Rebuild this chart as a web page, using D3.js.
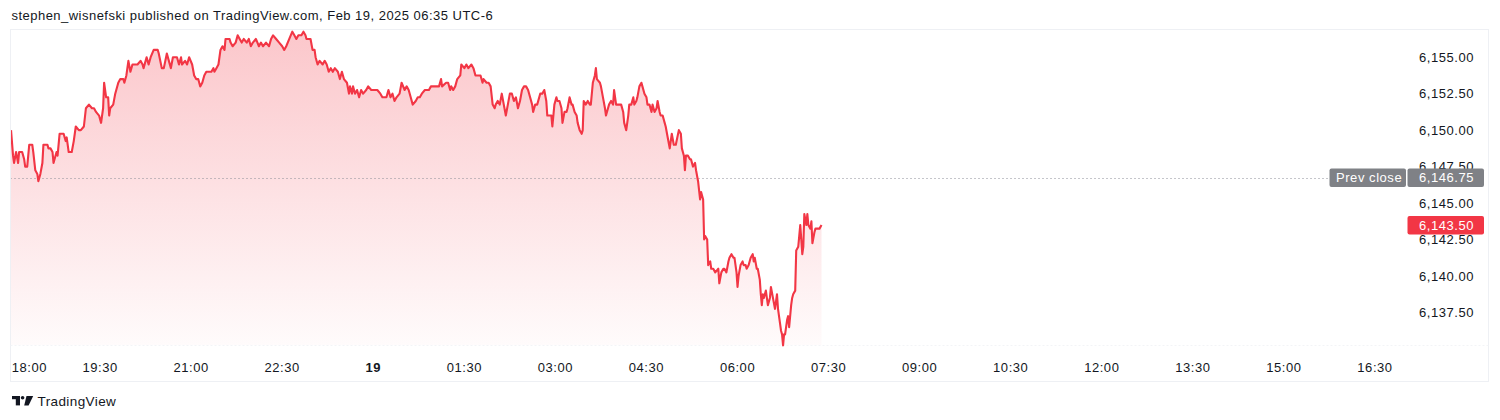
<!DOCTYPE html>
<html><head><meta charset="utf-8">
<script src="https://cdn.jsdelivr.net/npm/d3@7"></script>
<style>
html,body{margin:0;padding:0;background:#fff;}
svg{display:block;font-family:"Liberation Sans",Arial,sans-serif;}
</style></head>
<body>
<script>
// ---------- DATA ----------
const headerText = "stephen_wisnefski published on TradingView.com, Feb 19, 2025 06:35 UTC-6";
const sessionStart = "18:00";
const firstBarOffsetMin = 2; // first bar minutes after session start
// [minutes after first bar, price]
const ticksEvening = [[0,6150],[2,6148.25],[3,6147.75],[5,6148.5],[7,6147.75],[8,6148.5],[11,6148.5],[13,6148],[14,6147.5],[16,6147.5],[18,6149],[21,6149],[22,6148.5],[24,6147.25],[26,6147],[27,6146.5],[29,6147],[31,6147.75],[32,6149],[36,6149],[37,6148.75],[39,6148.75],[41,6148.5],[42,6147.75],[45,6148.5],[46,6148.25],[48,6149.75],[52,6149.75],[54,6149.25],[55,6149.5],[57,6148.5],[60,6148.5],[62,6149.25],[64,6150.25],[67,6150],[69,6150],[72,6150.25],[74,6151.5],[77,6151.75],[80,6151.5],[82,6151.5],[84,6151.25],[87,6151],[89,6150.5],[91,6151.5],[92,6153.25],[94,6152.25],[96,6152.25],[97,6151],[98,6151.5],[101,6151.75],[103,6152.5],[106,6153.25],[108,6153.5],[111,6153.5],[112,6153.25],[114,6153.75],[116,6154.75],[118,6154],[120,6154.5],[123,6154.5],[125,6154.5],[128,6154.75],[130,6154.5],[131,6154.25],[134,6155],[136,6154.5],[138,6155]];
const ticksNight = [[141,6155.5],[145,6155.5],[146,6155.25],[149,6154.25],[151,6154.25],[154,6155.25],[156,6154.75],[158,6154.25],[160,6155],[162,6155],[164,6155],[166,6154.5],[168,6155],[169,6154.5],[172,6154.75],[174,6154.5],[176,6155],[179,6154.5],[181,6153.75],[183,6153.5],[185,6153.5],[187,6153],[189,6153.25],[191,6153.75],[193,6154],[195,6154],[198,6154],[200,6154.25],[201,6154],[203,6154.25],[205,6154.5],[207,6155.5],[209,6155.75],[211,6155.5],[212,6156.25],[216,6156.25],[217,6156],[219,6155.75],[222,6156],[224,6156.5],[226,6156.25],[228,6156],[230,6156.25],[233,6156],[235,6156.25],[237,6155.75],[239,6156],[242,6156.25],[245,6155.75],[247,6156],[249,6155.75],[252,6156],[255,6155.75],[257,6156.25],[259,6156.5],[262,6156.25],[265,6156],[268,6155.75],[270,6155.5],[272,6155.75],[275,6156.25],[278,6156.75],[280,6156.5],[282,6156.25],[284,6156.5],[287,6156.5],[289,6156.75],[291,6156.5],[292,6156.25],[295,6156.25],[296,6156.25],[298,6155.5],[300,6155.5],[301,6155],[303,6154.5],[305,6154.75],[308,6154.5],[310,6154.75],[312,6154.5],[314,6154],[316,6154.25],[318,6154],[320,6154.25],[323,6154],[325,6153.5],[327,6154],[329,6153.5],[332,6153.25],[334,6152.5],[335,6153],[337,6152.5],[338,6153],[340,6152.5],[342,6152.75],[344,6152.25],[346,6152.75],[348,6152.5],[351,6152.75],[353,6153],[356,6152.75],[359,6152.75],[362,6152.75],[365,6152.5],[367,6152.25],[371,6152.25],[373,6152.75],[375,6152.25],[377,6152.5],[379,6152],[381,6152.25],[384,6152.5],[386,6153.25],[389,6152.75],[391,6153],[393,6152.75],[395,6152.25],[397,6151.75],[400,6152],[402,6152.25],[404,6152.25],[406,6152.5],[409,6152.75],[412,6152.75]];
const ticksEarly = [[413,6152.75],[415,6153],[418,6153],[423,6153],[425,6153.5],[426,6153],[430,6153.25],[432,6153.25],[434,6152.75],[435,6153],[437,6152.75],[439,6153],[441,6153.5],[444,6153.75],[445,6154.5],[448,6154.25],[450,6154.5],[452,6154.25],[455,6154.5],[457,6154.25],[459,6153.75],[461,6153.75],[464,6153.75],[466,6153.25],[467,6153.5],[470,6153.25],[472,6153.25],[474,6153],[476,6151.75],[478,6151.5],[479,6151.75],[481,6152],[483,6151.75],[485,6152.5],[487,6151.75],[489,6151],[491,6151.75],[493,6152.5],[495,6152.5],[497,6152],[499,6152.25],[501,6151.5],[503,6152],[505,6152.75],[507,6153],[509,6153],[511,6152.75],[513,6152.25],[515,6151.75],[516,6151.25],[518,6151.75],[520,6151.75],[523,6152.5],[525,6152.5],[527,6152.75],[529,6152],[530,6151],[532,6151],[534,6151],[535,6150.25],[537,6151.75],[539,6152.25],[540,6152],[542,6152],[544,6151.5],[545,6150.5],[547,6151.25],[549,6151.25],[550,6151.5],[552,6152.25],[554,6151.75],[555,6151.75],[557,6151.25],[559,6151],[560,6150.5],[562,6150],[564,6149.75],[565,6150],[566,6152],[568,6151.75],[570,6152],[572,6151.75],[573,6151.75],[575,6153.25],[577,6153.75],[578,6154.25],[579,6153.5],[582,6153.25],[583,6153],[585,6152.25],[587,6151.5],[588,6151],[590,6151.5],[591,6151.75],[593,6152],[595,6151.75],[596,6152.75],[598,6151.75],[600,6151.75],[601,6151.75],[603,6151.75],[605,6151.25],[606,6150.5],[608,6150],[610,6151],[611,6151.75],[613,6151.75],[615,6152.25],[616,6151.75],[618,6152],[619,6152.25],[621,6153],[623,6153.25],[624,6153],[626,6152.5],[628,6152.25],[629,6151.75],[631,6151.75],[633,6151.25],[634,6151.75],[636,6151.25],[638,6151.5],[639,6152],[641,6151.25],[642,6151],[644,6151],[646,6150.5],[647,6150.25],[649,6149.5],[651,6148.75],[652,6149.25],[653,6149.75],[655,6149],[657,6149],[660,6150],[662,6149.75],[663,6148.75],[665,6148.25],[666,6147.25],[667,6148.25],[669,6148.25],[671,6148],[672,6148],[674,6147.5],[676,6147.75],[677,6147.25],[679,6146.5]];
const ticksMorning = [[681,6145.25],[682,6145.75],[684,6145.25],[685,6142.5],[686,6142.75],[688,6142.5],[689,6140.75],[691,6141],[692,6140.5],[694,6140.5],[696,6140.25],[699,6140.5],[700,6139.5],[702,6140.25],[704,6140.5],[705,6140.5],[707,6140.25],[709,6141],[710,6141.25],[712,6141.5],[714,6141.25],[715,6141.25],[717,6140.25],[718,6139.25],[719,6140],[721,6140.75],[723,6141],[724,6140.75],[726,6140.75],[727,6140.5],[729,6140.75],[731,6141.25],[733,6141.5],[734,6141],[735,6141.25],[737,6140.5],[738,6140.5],[740,6139.75],[741,6138.75],[742,6138],[743,6138.75],[744,6138.5],[746,6139],[747,6138.5],[748,6138],[750,6138.5],[751,6139.25],[753,6138.5],[755,6137.75],[756,6138.25],[757,6138.75],[758,6137.75],[760,6136.75],[761,6136.25],[762,6136],[763,6135.25],[764,6136],[765,6136],[767,6137],[768,6137.25],[769,6136.5],[771,6138],[772,6138.5],[773,6138.75],[775,6139],[776,6141.75],[778,6142],[779,6142.75],[780,6143.5],[782,6141.5],[783,6142],[784,6144.25],[786,6143.5],[787,6144.25],[788,6143.5],[790,6143.25],[791,6143.75],[792,6142.25],[794,6143],[795,6143.25],[797,6143.25],[799,6143.25],[801,6143.5]];
const prevClose = 6146.75;
const lastPrice = 6143.50;
const priceTicks = [6137.5, 6140, 6142.5, 6145, 6147.5, 6150, 6152.5, 6155];
const timeTickLabels = ["18:00","19:30","21:00","22:30","19","01:30","03:00","04:30","06:00","07:30","09:00","10:30","12:00","13:30","15:00","16:30"];
const timeTickStepMin = 90;

// ---------- LAYOUT ----------
const W = 1500, H = 420;
const frame = {l: 10.5, t: 29.5, r: 1488.5, b: 381.5};
const plotBottom = 345;
const fmt = d3.format(",.2f");

const svg = d3.select("body").append("svg").attr("width", W).attr("height", H);

const x = d3.scaleLinear().domain([0, 1350]).range([9, 1375]);
const y = d3.scaleLinear().domain([6137.5, 6155]).range([312.5, 57.2]);

const data = [...ticksEvening, ...ticksNight, ...ticksEarly, ...ticksMorning]
  .map(([m, p]) => ({m: m + firstBarOffsetMin, p}));

// header
svg.append("text").attr("x", 11.5).attr("y", 19.5)
  .attr("font-size", 13).attr("fill", "#131722").attr("letter-spacing", 0.47)
  .text(headerText);

// frame
svg.append("rect").attr("x", frame.l).attr("y", frame.t)
  .attr("width", frame.r - frame.l).attr("height", frame.b - frame.t)
  .attr("fill", "none").attr("stroke", "#eef0f4").attr("stroke-width", 1);
svg.append("line").attr("x1", frame.l).attr("x2", frame.r)
  .attr("y1", plotBottom + 0.5).attr("y2", plotBottom + 0.5)
  .attr("stroke", "#f3f4f7").attr("stroke-dasharray", "2,2");

const defs = svg.append("defs");
const grad = defs.append("linearGradient").attr("id", "fillGrad")
  .attr("gradientUnits", "userSpaceOnUse").attr("x1", 0).attr("x2", 0)
  .attr("y1", 32).attr("y2", plotBottom);
grad.append("stop").attr("offset", 0).attr("stop-color", "#f23645").attr("stop-opacity", 0.28);
grad.append("stop").attr("offset", 1).attr("stop-color", "#f23645").attr("stop-opacity", 0.02);
defs.append("clipPath").attr("id", "plotClip").append("rect")
  .attr("x", frame.l + 0.5).attr("y", frame.t + 0.5)
  .attr("width", 1400).attr("height", plotBottom - frame.t + 2);

const g = svg.append("g").attr("clip-path", "url(#plotClip)");
g.append("path").datum(data)
  .attr("d", d3.area().x(d => x(d.m)).y0(plotBottom).y1(d => y(d.p)))
  .attr("fill", "url(#fillGrad)");

// prev close dotted line
g.append("line").attr("x1", frame.l).attr("x2", 1329)
  .attr("y1", Math.round(y(prevClose)) + 0.5).attr("y2", Math.round(y(prevClose)) + 0.5)
  .attr("stroke", "#8a8d96").attr("stroke-width", 1).attr("stroke-dasharray", "1,3");

g.append("path").datum(data)
  .attr("d", d3.line().x(d => x(d.m)).y(d => y(d.p)))
  .attr("fill", "none").attr("stroke", "#f23645").attr("stroke-width", 2.1)
  .attr("stroke-linejoin", "round");

// price axis labels
svg.append("g").selectAll("text").data(priceTicks).join("text")
  .attr("x", 1419).attr("y", d => y(d) + 4.6)
  .attr("font-size", 13).attr("fill", "#131722").attr("letter-spacing", 0.55)
  .text(d => fmt(d));

// prev close label
const pcY = y(prevClose);
svg.append("rect").attr("x", 1329.5).attr("y", pcY - 9).attr("width", 76.5).attr("height", 18.5)
  .attr("rx", 2).attr("fill", "#7f8186");
svg.append("rect").attr("x", 1407.5).attr("y", pcY - 9).attr("width", 76.5).attr("height", 18.5)
  .attr("rx", 2).attr("fill", "#7f8186");
svg.append("text").attr("x", 1336).attr("y", pcY + 4.6).attr("font-size", 13)
  .attr("fill", "#fff").attr("letter-spacing", 0.55).text("Prev close");
svg.append("text").attr("x", 1419).attr("y", pcY + 4.6).attr("font-size", 13)
  .attr("fill", "#fff").attr("letter-spacing", 0.55).text(fmt(prevClose));

// last price label
const lpY = y(lastPrice);
svg.append("rect").attr("x", 1407.5).attr("y", lpY - 9).attr("width", 76.5).attr("height", 18.5)
  .attr("rx", 2).attr("fill", "#f23645");
svg.append("text").attr("x", 1419).attr("y", lpY + 4.6).attr("font-size", 13)
  .attr("fill", "#fff").attr("letter-spacing", 0.55).text(fmt(lastPrice));

// time axis labels
svg.append("g").selectAll("text").data(timeTickLabels).join("text")
  .attr("x", (d, i) => i === 0 ? 11.7 : x(i * timeTickStepMin))
  .attr("y", 372.3)
  .attr("text-anchor", (d, i) => i === 0 ? "start" : "middle")
  .attr("font-size", 13).attr("letter-spacing", 0.55)
  .attr("font-weight", d => d.includes(":") ? "normal" : "bold")
  .attr("fill", "#131722")
  .text(d => d);

// TradingView logo
const logo = svg.append("g").attr("fill", "#131722");
logo.append("rect").attr("x", 12).attr("y", 396).attr("width", 8).attr("height", 3.2);
logo.append("rect").attr("x", 15.8).attr("y", 396).attr("width", 4.2).attr("height", 9.4);
logo.append("circle").attr("cx", 22.6).attr("cy", 397.8).attr("r", 1.8);
logo.append("path").attr("d", "M26.5,396 L33.2,396 L28.6,405.4 L24.2,405.4 Z");
svg.append("text").attr("x", 37.5).attr("y", 405.5).attr("font-size", 13.5)
  .attr("fill", "#131722").attr("letter-spacing", 0.4).text("TradingView");
</script>
</body></html>
